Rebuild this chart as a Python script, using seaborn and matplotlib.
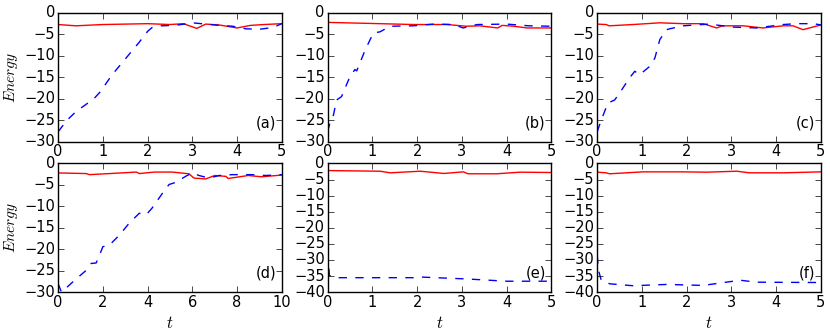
import matplotlib
matplotlib.use("Agg")
import matplotlib.pyplot as plt
import seaborn as sns

# panel (a)
t_a_blue = [0, 0.2, 0.4, 0.6, 0.8, 0.95, 1.2, 1.4, 1.6, 1.8, 2.0, 2.1, 2.3, 2.6, 2.9, 3.0, 3.3, 3.6, 3.9, 4.2, 4.5, 4.8, 5.0]
e_a_blue = [-27.7, -25, -23, -21.5, -20, -18.3, -14.5, -12, -9.5, -7, -4.3, -3.4, -3.0, -2.9, -2.5, -2.3, -2.6, -2.9, -3.1, -3.7, -3.8, -3.4, -2.5]
t_a_red = [0, 0.4, 1.0, 2.0, 2.5, 2.8, 3.1, 3.3, 3.6, 4.0, 4.3, 4.6, 5.0]
e_a_red = [-2.7, -3.0, -2.7, -2.5, -2.7, -2.5, -3.6, -2.6, -2.8, -3.5, -2.9, -2.7, -2.5]

# panel (b)
t_b_blue = [0, 0.05, 0.13, 0.2, 0.31, 0.5, 0.61, 0.65, 0.84, 1.02, 1.17, 1.4, 1.92, 2.37, 2.82, 3.03, 3.34, 4.0, 4.5, 5.0]
e_b_blue = [-27.7, -25.7, -23.8, -20.3, -19.5, -14.8, -13.2, -13.5, -8.6, -4.7, -4.4, -3.1, -3.0, -2.6, -2.7, -3.5, -2.7, -2.6, -3.0, -3.1]
t_b_red = [0, 1.17, 1.92, 2.67, 3.1, 3.4, 3.8, 3.9, 4.16, 4.46, 5.0]
e_b_red = [-2.2, -2.5, -2.7, -2.7, -3.1, -3.0, -3.5, -2.9, -3.1, -3.5, -3.5]

# panel (c)
t_c_blue = [0, 0.09, 0.24, 0.39, 0.5, 0.72, 0.84, 0.95, 1.17, 1.29, 1.4, 1.55, 1.62, 1.92, 2.5, 3.04, 3.56, 4.16, 4.46, 4.84, 5.0]
e_c_blue = [-27.7, -25, -21, -20.3, -18.7, -15.2, -13.6, -14.4, -12.5, -10.5, -6.2, -3.9, -3.7, -3.0, -2.6, -3.3, -3.5, -2.7, -2.5, -2.5, -2.8]
t_c_red = [0, 0.2, 0.27, 0.8, 1.4, 1.92, 2.37, 2.67, 2.8, 3.27, 3.7, 4.16, 4.38, 4.6, 5.0]
e_c_red = [-2.6, -2.7, -3.0, -2.7, -2.3, -2.5, -2.5, -3.5, -3.0, -3.0, -3.5, -3.0, -3.0, -3.9, -2.8]

# panel (d)
t_d_blue = [0, 0.15, 0.81, 1.26, 1.48, 1.7, 1.85, 2.0, 2.3, 2.74, 3.18, 3.63, 3.93, 4.2, 4.67, 4.96, 5.26, 5.7, 6.0, 6.3, 6.74, 7.2, 7.8, 8.67, 9.26, 10.0]
e_d_blue = [-28, -30, -26.9, -24.9, -23.3, -23.2, -21.4, -19.4, -19, -16.7, -13.9, -11.6, -12, -10.4, -6.9, -4.9, -4.4, -3.0, -2.2, -2.8, -3.4, -2.8, -2.6, -2.6, -2.8, -2.6]
t_d_red = [0, 1.26, 1.4, 2.3, 3.5, 3.63, 4.3, 5.1, 5.85, 6.07, 6.6, 7.0, 7.5, 7.6, 8.5, 9.1, 10.0]
e_d_red = [-2.2, -2.35, -2.6, -2.35, -2.0, -2.35, -2.0, -2.0, -2.4, -3.4, -3.6, -2.8, -3.0, -3.5, -2.8, -3.1, -2.7]

# panel (e)
t_e_blue = [0, 0.04, 0.13, 1.92, 2.07, 3.12, 4.0, 5.0]
e_e_blue = [-27.5, -34.8, -35.5, -35.5, -35.3, -35.9, -36.6, -36.6]
t_e_red = [0, 1.17, 1.4, 2.07, 2.6, 3.03, 3.14, 3.78, 4.3, 5.0]
e_e_red = [-2.2, -2.4, -2.9, -2.4, -3.1, -2.6, -3.2, -3.2, -2.7, -2.8]

# panel (f)
t_f_blue = [0, 0.03, 0.09, 0.28, 0.8, 1.55, 2.37, 3.04, 3.2, 3.56, 5.0]
e_f_blue = [-28.5, -33.2, -36.3, -37.4, -38.0, -37.6, -37.9, -36.6, -36.3, -36.9, -37.0]
t_f_red = [0, 0.2, 0.28, 1.02, 1.9, 2.45, 3.12, 3.4, 4.16, 5.0]
e_f_red = [-2.7, -2.9, -3.2, -2.6, -2.6, -2.7, -2.4, -2.9, -2.9, -2.6]

panel_labels = ["(a)", "(b)", "(c)", "(d)", "(e)", "(f)"]
x_limits = [(0, 5), (0, 5), (0, 5), (0, 10), (0, 5), (0, 5)]
y_limits = [(-30, 0), (-30, 0), (-30, 0), (-30, 0), (-40, 0), (-40, 0)]

panels = [
    (t_a_red, e_a_red, t_a_blue, e_a_blue),
    (t_b_red, e_b_red, t_b_blue, e_b_blue),
    (t_c_red, e_c_red, t_c_blue, e_c_blue),
    (t_d_red, e_d_red, t_d_blue, e_d_blue),
    (t_e_red, e_e_red, t_e_blue, e_e_blue),
    (t_f_red, e_f_red, t_f_blue, e_f_blue),
]

plt.style.use("classic")
plt.rcParams["font.family"] = ["DejaVu Sans"]
plt.rcParams["mathtext.fontset"] = "cm"
plt.rcParams["xtick.labelsize"] = 10.5
plt.rcParams["ytick.labelsize"] = 10.5
plt.rcParams["xtick.major.pad"] = 2
plt.rcParams["ytick.major.pad"] = 2

fig, axes = plt.subplots(2, 3, figsize=(8.3, 3.32), dpi=100)
fig.patch.set_facecolor("white")
fig.subplots_adjust(left=0.07, right=0.989, top=0.961, bottom=0.12, wspace=0.205, hspace=0.17)

for i, ax in enumerate(axes.flat):
    tr, er, tb, eb = panels[i]
    sns.lineplot(x=tr, y=er, ax=ax, color="r", linewidth=1.0, linestyle="-")
    sns.lineplot(x=tb, y=eb, ax=ax, color="b", linewidth=1.0, linestyle="--")
    ax.set_xlim(*x_limits[i])
    ax.set_ylim(*y_limits[i])
    ax.set_yticks(range(y_limits[i][0], 1, 5))
    ax.set_facecolor("white")
    ax.text(0.975, 0.09, panel_labels[i], transform=ax.transAxes,
            ha="right", va="bottom", fontsize=10.5)
    ax.set_xlabel("")
    ax.set_ylabel("")
    if i % 3 == 0:
        ax.set_ylabel("$Energy$", fontsize=11, labelpad=3)
    if i >= 3:
        ax.set_xlabel("$t$", fontsize=12, labelpad=3)

fig.savefig("out.png", dpi=100, facecolor="white")
